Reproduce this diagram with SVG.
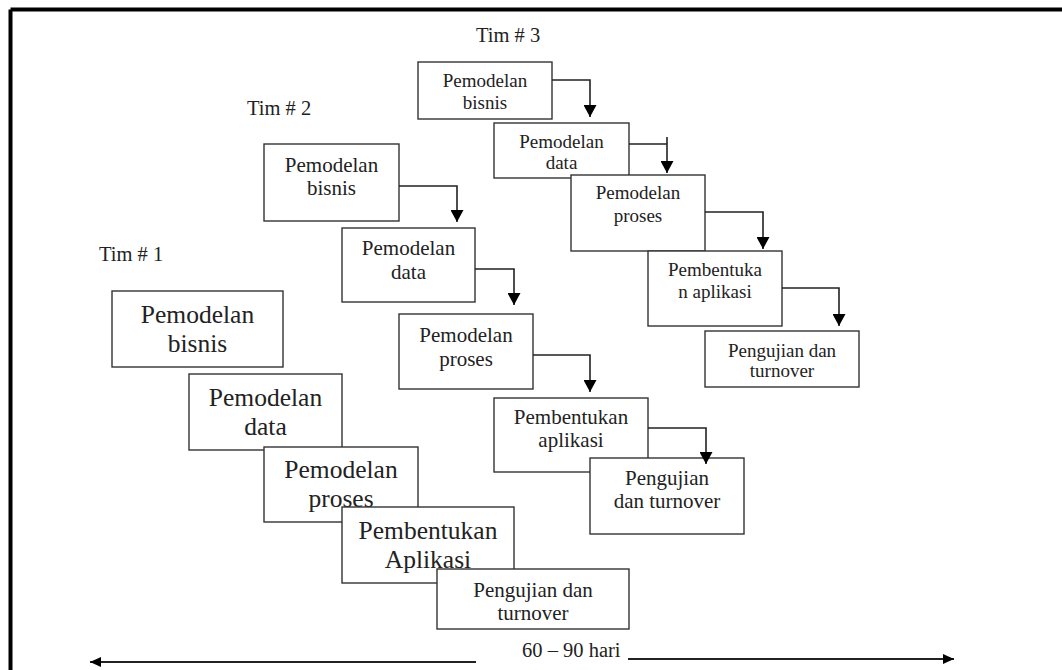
<svg xmlns="http://www.w3.org/2000/svg" width="1062" height="670" viewBox="0 0 1062 670">
<style>
.box{fill:#fff;stroke:#333;stroke-width:1.4}
.t{font-family:"Liberation Serif","Times New Roman",serif;fill:#222;text-anchor:middle}
.s19{font-size:19px}
.s21{font-size:21px}
.s25{font-size:25.5px}
.lbl{font-family:"Liberation Serif","Times New Roman",serif;fill:#222;font-size:20.5px}
.con{fill:none;stroke:#222;stroke-width:1.6}
.axis{fill:none;stroke:#222;stroke-width:2}
</style>
<defs>
<marker id="ah" markerUnits="userSpaceOnUse" viewBox="0 0 12 13" refX="12" refY="6.5" markerWidth="12" markerHeight="13" orient="auto">
<path d="M0,0 L12,6.5 L0,13 z" fill="#000"/>
</marker>
<marker id="ax" markerUnits="userSpaceOnUse" viewBox="0 0 11 10" refX="11" refY="5" markerWidth="11" markerHeight="10" orient="auto">
<path d="M0,0 L11,5 L0,10 z" fill="#000"/>
</marker>
</defs>
<rect x="0" y="0" width="1062" height="670" fill="#fff"/>
<g id="frame">
<path d="M10.5,9.5 H1062 M10.5,9.5 V670" fill="none" stroke="#000" stroke-width="4"/>
</g>
<g id="labels">
<text class="lbl" x="476" y="42">Tim # 3</text>
<text class="lbl" x="247" y="115">Tim # 2</text>
<text class="lbl" x="99" y="261">Tim # 1</text>
</g>
<g id="tim3">
<g id="t3-bisnis"><rect class="box" x="418" y="62" width="134" height="57"/><text class="t s19" x="485" y="87">Pemodelan</text><text class="t s19" x="485" y="109">bisnis</text></g>
<g id="t3-data"><rect class="box" x="494" y="123" width="135" height="55"/><text class="t s19" x="561.5" y="148">Pemodelan</text><text class="t s19" x="561.5" y="169">data</text></g>
<g id="t3-proses"><rect class="box" x="571" y="175" width="134" height="76"/><text class="t s19" x="638" y="199">Pemodelan</text><text class="t s19" x="638" y="222">proses</text></g>
<g id="t3-aplikasi"><rect class="box" x="648" y="251" width="134" height="75"/><text class="t s19" x="715" y="276">Pembentuka</text><text class="t s19" x="715" y="298">n aplikasi</text></g>
<g id="t3-uji"><rect class="box" x="705" y="331" width="154" height="56"/><text class="t s19" x="782" y="357">Pengujian dan</text><text class="t s19" x="782" y="377">turnover</text></g>
</g>
<g id="tim2">
<g id="t2-bisnis"><rect class="box" x="264" y="144" width="135" height="77"/><text class="t s21" x="331.5" y="172">Pemodelan</text><text class="t s21" x="331.5" y="195">bisnis</text></g>
<g id="t2-data"><rect class="box" x="342" y="228" width="133" height="74"/><text class="t s21" x="408.5" y="255">Pemodelan</text><text class="t s21" x="408.5" y="279">data</text></g>
<g id="t2-proses"><rect class="box" x="399" y="314" width="134" height="75"/><text class="t s21" x="466" y="342">Pemodelan</text><text class="t s21" x="466" y="366">proses</text></g>
<g id="t2-aplikasi"><rect class="box" x="494" y="398" width="154" height="74"/><text class="t s21" x="571" y="424">Pembentukan</text><text class="t s21" x="571" y="447">aplikasi</text></g>
<g id="t2-uji"><rect class="box" x="590" y="458" width="154" height="76"/><text class="t s21" x="667" y="485">Pengujian</text><text class="t s21" x="667" y="508">dan turnover</text></g>
</g>
<g id="tim1">
<g id="t1-bisnis"><rect class="box" x="112" y="291" width="171" height="76"/><text class="t s25" x="197.5" y="323">Pemodelan</text><text class="t s25" x="197.5" y="352">bisnis</text></g>
<g id="t1-data"><rect class="box" x="189" y="374" width="153" height="76"/><text class="t s25" x="265.5" y="406">Pemodelan</text><text class="t s25" x="265.5" y="435">data</text></g>
<g id="t1-proses"><rect class="box" x="264" y="447" width="154" height="75"/><text class="t s25" x="341" y="478">Pemodelan</text><text class="t s25" x="341" y="507">proses</text></g>
<g id="t1-aplikasi"><rect class="box" x="342" y="507" width="172" height="76"/><text class="t s25" x="428" y="539">Pembentukan</text><text class="t s25" x="428" y="568">Aplikasi</text></g>
<g id="t1-uji"><rect class="box" x="437" y="569" width="192" height="60"/><text class="t s21" x="533" y="597">Pengujian dan</text><text class="t s21" x="533" y="620">turnover</text></g>
</g>
<g id="connectors">
<path class="con" d="M552,80 H590 V117" marker-end="url(#ah)"/>
<path class="con" d="M629,144 H667"/>
<path class="con" d="M667,137 V173" marker-end="url(#ah)"/>
<path class="con" d="M705,212 H763 V249" marker-end="url(#ah)"/>
<path class="con" d="M782,288 H839 V326" marker-end="url(#ah)"/>
<path class="con" d="M399,186 H457 V222" marker-end="url(#ah)"/>
<path class="con" d="M475,269 H514 V305" marker-end="url(#ah)"/>
<path class="con" d="M533,355 H590 V392" marker-end="url(#ah)"/>
<path class="con" d="M648,428 H706 V464" marker-end="url(#ah)"/>
<path class="axis" d="M476,662 H90" marker-end="url(#ax)"/>
<path class="axis" d="M628,659 H954" marker-end="url(#ax)"/>
</g>
<text class="lbl" x="522" y="657">60 – 90 hari</text>
</svg>
